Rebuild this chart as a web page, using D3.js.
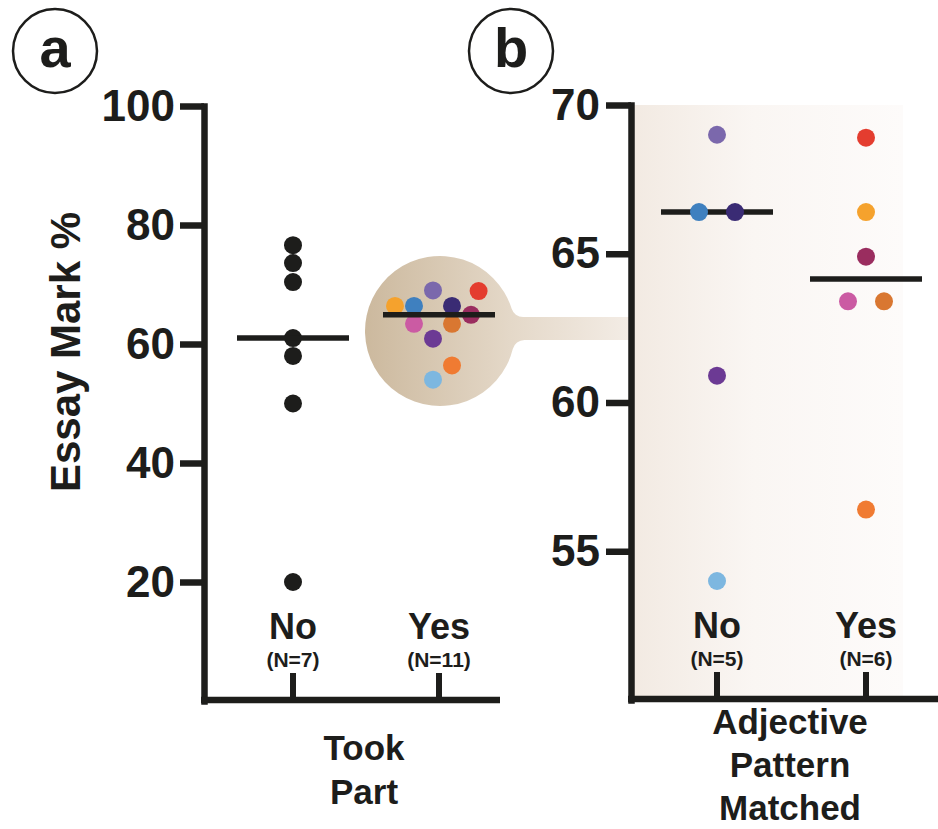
<!DOCTYPE html>
<html>
<head>
<meta charset="utf-8">
<script src="https://cdn.jsdelivr.net/npm/d3@7"></script>
<style>
  body { margin: 0; background: #fff; }
  text { font-family: "Liberation Sans", Arial, sans-serif; font-weight: bold; fill: #1d1d1b; }
</style>
</head>
<body>
<div id="chart"></div>
<script>
// Section 1: data
var groups = ["No", "Yes"];
var countsTookPart = ["(N=7)", "(N=11)"];
var countsMatched = ["(N=5)", "(N=6)"];
var ticksA = [20, 40, 60, 80, 100];
var ticksB = [55, 60, 65, 70];

// students who did not take part
var nonTakerMarks = [76.6, 73.6, 70.4, 61, 58, 50, 20];

// students who took part (one colour each)
var takerMarks = [69, 66.4, 66.4, 60.9, 54, 68.9, 66.4, 64.9, 63.4, 63.4, 56.4];
var takerMatched = ["No", "No", "No", "No", "No", "Yes", "Yes", "Yes", "Yes", "Yes", "Yes"];
var takerColors = ["#7b68ac", "#3f80bf", "#3a2b74", "#6c3a94", "#7db7e0",
                   "#e43d2f", "#f5a22d", "#9a2d5f", "#cb5ba3", "#d97731", "#f07b32"];
// swarm slot used to keep dots from overlapping
var swarmA = [0, -1, 1, 0, 0, 2.4, -2, 2, -1, 1, 1];
var swarmB = [0, -1, 1, 0, 0, 0, 0, 0, -1, 1, 0];

var takers = takerMarks.map(function(m, i) {
  return { mark: m, matched: takerMatched[i], color: takerColors[i], slotA: swarmA[i], slotB: swarmB[i] };
});

// Section 2: canvas
var width = 938;
var height = 829;
var ink = "#1d1d1b";

var svg = d3.select("#chart")
  .append("svg")
  .attr("width", width)
  .attr("height", height);

var defs = svg.append("defs");

var bgGrad = defs.append("linearGradient")
  .attr("id", "bgGrad")
  .attr("gradientUnits", "userSpaceOnUse")
  .attr("x1", 631).attr("x2", 903).attr("y1", 0).attr("y2", 0);
bgGrad.append("stop").attr("offset", 0).attr("stop-color", "#f2eae2");
bgGrad.append("stop").attr("offset", 0.45).attr("stop-color", "#faf6f3");
bgGrad.append("stop").attr("offset", 1).attr("stop-color", "#fdfbfa");

var lensGrad = defs.append("linearGradient")
  .attr("id", "lensGrad")
  .attr("gradientUnits", "userSpaceOnUse")
  .attr("x1", 366).attr("x2", 628).attr("y1", 0).attr("y2", 0);
lensGrad.append("stop").attr("offset", 0).attr("stop-color", "#ccb99e");
lensGrad.append("stop").attr("offset", 0.55).attr("stop-color", "#e4d8c8");
lensGrad.append("stop").attr("offset", 1).attr("stop-color", "#f3ece5");

// Section 3: scales
var yA = d3.scaleLinear().domain([0, 100]).range([701, 106]);
var xA = d3.scalePoint().domain(groups).range([293, 439]);
var slotA = d3.scaleLinear().domain([0, 1]).range([-6, 13]);

var yB = d3.scaleLinear().domain([50, 70]).range([700, 105]);
var xB = d3.scalePoint().domain(groups).range([717, 866]);
var slotB = d3.scaleLinear().domain([0, 1]).range([0, 18]);

var R = 9;
var halfBar = 56;

// panel b background
svg.append("rect")
  .attr("x", 631).attr("y", yB(70))
  .attr("width", 272).attr("height", yB(50) - yB(70))
  .attr("fill", "url(#bgGrad)");

// Section 4: the magnifier lens joining the two panels
var cx = 440, cy = 331, cr = 75;
var neckTop = 317, neckBot = 340, neckEnd = 631, rf = 12;
function fillet(lineY, sign) {
  var fy = lineY + sign * rf;
  var dy = fy - cy;
  var dx = Math.sqrt((cr + rf) * (cr + rf) - dy * dy);
  var fx = cx + dx;
  var k = cr / (cr + rf);
  return { fx: fx, tx: cx + dx * k, ty: cy + dy * k };
}
var ft = fillet(neckTop, -1);
var fb = fillet(neckBot, 1);
var lensPath = "M" + ft.tx + "," + ft.ty +
  "A" + rf + "," + rf + " 0 0 0 " + ft.fx + "," + neckTop +
  "L" + neckEnd + "," + neckTop +
  "L" + neckEnd + "," + neckBot +
  "L" + fb.fx + "," + neckBot +
  "A" + rf + "," + rf + " 0 0 0 " + fb.tx + "," + fb.ty +
  "A" + cr + "," + cr + " 0 1 1 " + ft.tx + "," + ft.ty + "Z";
svg.append("path").attr("d", lensPath).attr("fill", "url(#lensGrad)");

// Section 5: axes
function styleAxis(g) {
  g.selectAll("path, line").attr("stroke", ink).attr("stroke-width", 6.5);
  g.select(".domain").attr("stroke-linecap", "square");
  g.selectAll("text")
    .attr("font-size", 44)
    .attr("font-family", "Liberation Sans, Arial, sans-serif")
    .attr("font-weight", "bold")
    .attr("fill", ink);
}

svg.append("g")
  .attr("transform", "translate(204,0)")
  .call(d3.axisLeft(yA).tickValues(ticksA).tickSize(24).tickSizeOuter(0).tickPadding(5))
  .call(styleAxis);

svg.append("g")
  .attr("transform", "translate(631,0)")
  .call(d3.axisLeft(yB).tickValues(ticksB).tickSize(25).tickSizeOuter(0).tickPadding(6))
  .call(styleAxis);

function bottomAxis(x, y, x0, x1, counts, title, titleX, titleY, lineGap) {
  var g = svg.append("g").attr("transform", "translate(0," + y + ")");
  g.append("line")
    .attr("x1", x0).attr("x2", x1)
    .attr("stroke", ink).attr("stroke-width", 6.5);
  g.selectAll(".tk").data(groups).enter().append("line")
    .attr("x1", function(d) { return x(d); })
    .attr("x2", function(d) { return x(d); })
    .attr("y1", 0).attr("y2", -27)
    .attr("stroke", ink).attr("stroke-width", 6);
  g.selectAll(".gl").data(groups).enter().append("text")
    .attr("x", function(d) { return x(d); })
    .attr("y", -61)
    .attr("text-anchor", "middle")
    .attr("font-size", 36)
    .text(function(d) { return d; });
  g.selectAll(".nl").data(counts).enter().append("text")
    .attr("x", function(d, i) { return x(groups[i]); })
    .attr("y", -33)
    .attr("text-anchor", "middle")
    .attr("font-size", 21)
    .text(function(d) { return d; });
  g.selectAll(".tl").data(title).enter().append("text")
    .attr("x", titleX)
    .attr("y", function(d, i) { return titleY + i * lineGap; })
    .attr("text-anchor", "middle")
    .attr("font-size", 35)
    .text(function(d) { return d; });
}
bottomAxis(xA, 700, 201, 500, countsTookPart, ["Took", "Part"], 364, 60, 44);
bottomAxis(xB, 699, 628, 938, countsMatched, ["Adjective", "Pattern", "Matched"], 790, 35, 43);

// y axis title
svg.append("text")
  .attr("transform", "translate(80,352)rotate(-90)")
  .attr("text-anchor", "middle")
  .attr("font-size", 42)
  .text("Essay Mark %");

// Section 6: points and medians
var panelA = svg.append("g");
panelA.selectAll(".nt").data(nonTakerMarks).enter().append("circle")
  .attr("cx", xA("No"))
  .attr("cy", function(d) { return yA(d); })
  .attr("r", R)
  .attr("fill", ink);

panelA.selectAll(".tk").data(takers).enter().append("circle")
  .attr("cx", function(d) { return xA("Yes") + slotA(d.slotA); })
  .attr("cy", function(d) { return yA(d.mark); })
  .attr("r", R)
  .attr("fill", function(d) { return d.color; });

var medA = [
  { g: "No", m: d3.median(nonTakerMarks) },
  { g: "Yes", m: d3.median(takerMarks) }
];
panelA.selectAll(".med").data(medA).enter().append("line")
  .attr("x1", function(d) { return xA(d.g) - halfBar; })
  .attr("x2", function(d) { return xA(d.g) + halfBar; })
  .attr("y1", function(d) { return yA(d.m); })
  .attr("y2", function(d) { return yA(d.m); })
  .attr("stroke", ink).attr("stroke-width", 5.5);

var panelB = svg.append("g");
var medB = groups.map(function(g) {
  return { g: g, m: d3.median(takers.filter(function(t) { return t.matched === g; }), function(t) { return t.mark; }) };
});
panelB.selectAll(".med").data(medB).enter().append("line")
  .attr("x1", function(d) { return xB(d.g) - halfBar; })
  .attr("x2", function(d) { return xB(d.g) + halfBar; })
  .attr("y1", function(d) { return yB(d.m); })
  .attr("y2", function(d) { return yB(d.m); })
  .attr("stroke", ink).attr("stroke-width", 5.5);

panelB.selectAll(".pt").data(takers).enter().append("circle")
  .attr("cx", function(d) { return xB(d.matched) + slotB(d.slotB); })
  .attr("cy", function(d) { return yB(d.mark); })
  .attr("r", R)
  .attr("fill", function(d) { return d.color; });

// Section 7: panel letters
var letters = [{ t: "a", x: 55, y: 51 }, { t: "b", x: 511, y: 51 }];
var lg = svg.selectAll(".letter").data(letters).enter().append("g");
lg.append("circle")
  .attr("cx", function(d) { return d.x; })
  .attr("cy", function(d) { return d.y; })
  .attr("r", 42)
  .attr("fill", "none")
  .attr("stroke", ink)
  .attr("stroke-width", 2.5);
lg.append("text")
  .attr("x", function(d) { return d.x; })
  .attr("y", function(d) { return d.y + 16; })
  .attr("text-anchor", "middle")
  .attr("font-size", 56)
  .text(function(d) { return d.t; });
</script>
</body>
</html>
